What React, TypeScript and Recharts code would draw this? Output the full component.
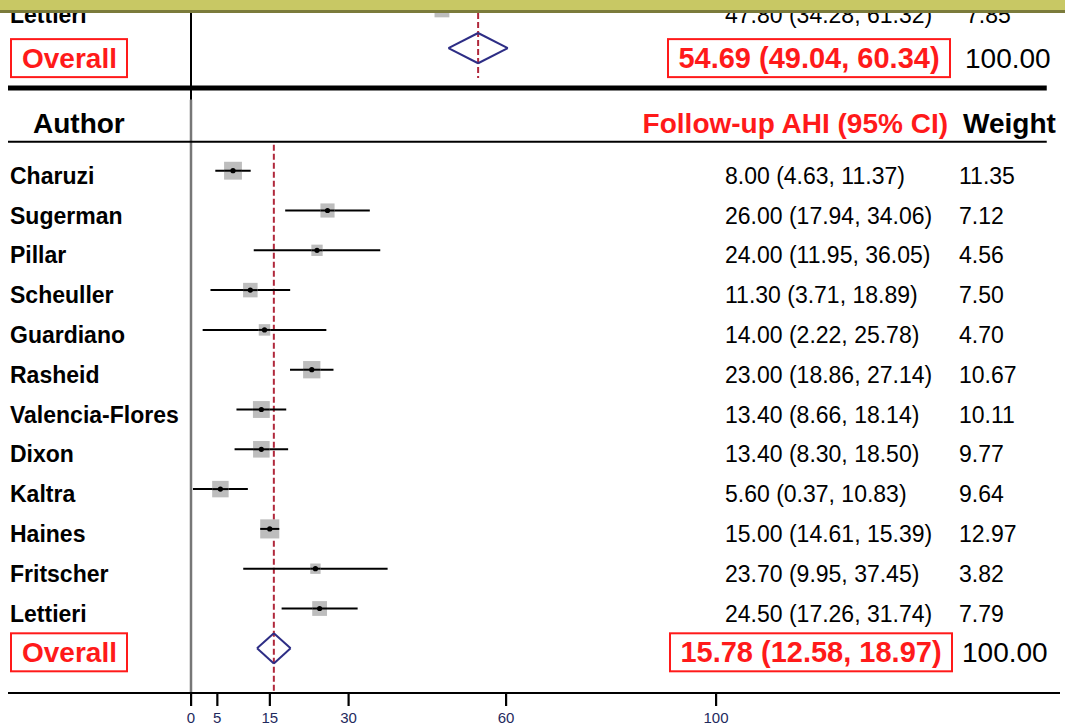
import React from 'react';
import { ScatterChart, Scatter, XAxis, YAxis, ReferenceLine } from 'recharts';

// ---------- data ----------
// previous (upper) panel, only its last study and its pooled row are visible
const topAuthors = ['Lettieri'];
const topEstimates = [47.8];
const topLower = [34.28];
const topUpper = [61.32];
const topWeights = [7.85];
const topOverall = [54.69, 49.04, 60.34]; // estimate, lower, upper

// follow-up AHI panel
const authors = [
  'Charuzi', 'Sugerman', 'Pillar', 'Scheuller', 'Guardiano', 'Rasheid',
  'Valencia-Flores', 'Dixon', 'Kaltra', 'Haines', 'Fritscher', 'Lettieri',
];
const estimates = [8.0, 26.0, 24.0, 11.3, 14.0, 23.0, 13.4, 13.4, 5.6, 15.0, 23.7, 24.5];
const lowerCI = [4.63, 17.94, 11.95, 3.71, 2.22, 18.86, 8.66, 8.3, 0.37, 14.61, 9.95, 17.26];
const upperCI = [11.37, 34.06, 36.05, 18.89, 25.78, 27.14, 18.14, 18.5, 10.83, 15.39, 37.45, 31.74];
const weights = [11.35, 7.12, 4.56, 7.5, 4.7, 10.67, 10.11, 9.77, 9.64, 12.97, 3.82, 7.79];
const overall = [15.78, 12.58, 18.97]; // estimate, lower, upper
const overallWeight = 100.0;

const xTicks = [0, 5, 15, 30, 60, 100];

// ---------- layout ----------
const W = 1065;
const H = 728;
const X_MIN = -34.857;
const X_MAX = 165.524;
const Y_MIN = -3.289;
const Y_MAX = 14.123;
const TOP_STUDY_ROW = -3.04;
const TOP_OVERALL_ROW = -2.08;
const HEADER_ROW = -0.32;
const THICK_RULE_ROW = -1.08;
const THIN_RULE_ROW = 0.27;
const ZERO_BREAK_ROW = -0.78;
const TOP_DASH = [-2.96, -1.33];
const LOW_DASH_START = 0.35;
const RULE_END_X = 163.0;
const DIAMOND_HALF = 0.38;
const BOX_SCALE = 5.3;
const TICK_SIZE = 13;

const RED = '#ff1a1a';
const NAVY = '#2d2d85';
const DASH = '#b0283c';
const FONT = '"Liberation Sans", Arial, Helvetica, sans-serif';

const fmt = (v: number) => v.toFixed(2);
const ciText = (e: number, l: number, u: number) => `${fmt(e)} (${fmt(l)}, ${fmt(u)})`;

type Row = {
  x: number;
  y: number;
  kind: 'study' | 'overall' | 'header';
  name?: string;
  ci?: string;
  weight?: string;
  dy: number;
  wx: number;
  boxX?: number;
};

const rows: Row[] = [
  ...topAuthors.map((a, i) => ({
    x: 0, y: TOP_STUDY_ROW + i, kind: 'study' as const, name: a,
    ci: ciText(topEstimates[i], topLower[i], topUpper[i]), weight: fmt(topWeights[i]), dy: 5, wx: 966,
  })),
  {
    x: 0, y: TOP_OVERALL_ROW, kind: 'overall', ci: ciText(topOverall[0], topOverall[1], topOverall[2]),
    weight: fmt(overallWeight), dy: 10, wx: 965, boxX: 668,
  },
  { x: 0, y: HEADER_ROW, kind: 'header', dy: 5, wx: 963 },
  ...authors.map((a, i) => ({
    x: 0, y: i + 1, kind: 'study' as const, name: a,
    ci: ciText(estimates[i], lowerCI[i], upperCI[i]), weight: fmt(weights[i]), dy: 5, wx: 959,
  })),
  {
    x: 0, y: authors.length + 1, kind: 'overall', ci: ciText(overall[0], overall[1], overall[2]),
    weight: fmt(overallWeight), dy: 4, wx: 962, boxX: 670,
  },
];

const boxes = [
  ...topAuthors.map((_, i) => ({ x: topEstimates[i], y: TOP_STUDY_ROW + i, w: topWeights[i] })),
  ...authors.map((_, i) => ({ x: estimates[i], y: i + 1, w: weights[i] })),
];

const ciSegments = [
  ...topAuthors.map((_, i) => ({ lo: topLower[i], hi: topUpper[i], y: TOP_STUDY_ROW + i })),
  ...authors.map((_, i) => ({ lo: lowerCI[i], hi: upperCI[i], y: i + 1 })),
];

const diamonds = [
  { est: topOverall[0], lo: topOverall[1], hi: topOverall[2], y: TOP_OVERALL_ROW },
  { est: overall[0], lo: overall[1], hi: overall[2], y: authors.length + 1 },
];

// tick marks sit on the axis line (the bottom of the row scale)
const tickPoints = xTicks.map((t) => ({ x: t, y: Y_MAX, label: String(t) }));

// ---------- renderers ----------
const BoxShape = (props: any) => {
  const { cx, cy, payload } = props;
  if (cx == null || cy == null) return null;
  const s = BOX_SCALE * Math.sqrt(payload.w);
  return (
    <g>
      <rect x={cx - s / 2} y={cy - s / 2} width={s} height={s} fill="#bdbdbd" />
      <line x1={cx - s / 2} x2={cx + s / 2} y1={cy} y2={cy} stroke="#000" strokeWidth={2} />
      <circle cx={cx} cy={cy} r={2.6} fill="#000" />
    </g>
  );
};

const TickShape = (props: any) => {
  const { cx, cy, payload } = props;
  if (cx == null || cy == null) return null;
  return (
    <g>
      <rect x={cx - 1} y={cy} width={2.2} height={TICK_SIZE} fill="#000" />
      <text x={cx} y={cy + 24} textAnchor="middle" dominantBaseline="central" fontSize={15} fill="#1f2a5e" fontFamily={FONT}>
        {payload.label}
      </text>
    </g>
  );
};

const RowText = (props: any) => {
  const { cy, payload } = props;
  if (cy == null || !payload) return null;
  const row = payload as Row;
  const ty = cy + row.dy;
  const common = { dominantBaseline: 'central' as const, fontFamily: FONT };
  if (row.kind === 'header') {
    return (
      <g>
        <text x={33} y={ty} fontSize={28} fontWeight="bold" fill="#000" {...common}>Author</text>
        <text x={948} y={ty} fontSize={28} fontWeight="bold" fill={RED} textAnchor="end" {...common}>
          Follow-up AHI (95% CI)
        </text>
        <text x={row.wx} y={ty} fontSize={28} fontWeight="bold" fill="#000" {...common}>Weight</text>
      </g>
    );
  }
  if (row.kind === 'overall') {
    const bx = row.boxX as number;
    return (
      <g>
        <rect x={11} y={ty - 19} width={116} height={38} fill="none" stroke={RED} strokeWidth={2} />
        <text x={22} y={ty} fontSize={28} fontWeight="bold" fill={RED} {...common}>Overall</text>
        <rect x={bx} y={ty - 19} width={282} height={38} fill="none" stroke={RED} strokeWidth={2} />
        <text x={bx + 141} y={ty} fontSize={29} fontWeight="bold" fill={RED} textAnchor="middle" {...common}>
          {row.ci}
        </text>
        <text x={row.wx} y={ty} fontSize={28} fill="#000" {...common}>{row.weight}</text>
      </g>
    );
  }
  return (
    <g>
      <text x={10} y={ty} fontSize={23} fontWeight="bold" fill="#000" {...common}>{row.name}</text>
      <text x={725} y={ty} fontSize={23} fill="#000" {...common}>{row.ci}</text>
      <text x={row.wx} y={ty} fontSize={23} fill="#000" {...common}>{row.weight}</text>
    </g>
  );
};

export default function App() {
  return (
    <div style={{ position: 'absolute', left: 0, top: 0, width: W, height: H, background: '#fff', fontFamily: FONT }}>
      <ScatterChart width={W} height={H} margin={{ top: 0, right: 5, bottom: 0, left: 8 }}>
        <XAxis
          type="number"
          dataKey="x"
          domain={[X_MIN, X_MAX]}
          ticks={xTicks}
          height={35}
          tick={false}
          tickLine={false}
          axisLine={{ stroke: '#000', strokeWidth: 2 }}
        />
        <YAxis
          type="number"
          dataKey="y"
          domain={[Y_MIN, Y_MAX]}
          reversed
          hide
        />
        {/* vertical line at zero */}
        <ReferenceLine
          segment={[{ x: 0, y: Y_MIN }, { x: 0, y: ZERO_BREAK_ROW }]}
          stroke="#000" strokeWidth={2} ifOverflow="visible"
        />
        <ReferenceLine
          segment={[{ x: 0, y: ZERO_BREAK_ROW }, { x: 0, y: Y_MAX }]}
          stroke="#777" strokeWidth={2.5} ifOverflow="visible"
        />
        {/* rules */}
        <ReferenceLine
          segment={[{ x: X_MIN, y: THICK_RULE_ROW }, { x: RULE_END_X, y: THICK_RULE_ROW }]}
          stroke="#000" strokeWidth={5} ifOverflow="visible"
        />
        <ReferenceLine
          segment={[{ x: X_MIN, y: THIN_RULE_ROW }, { x: RULE_END_X, y: THIN_RULE_ROW }]}
          stroke="#000" strokeWidth={2} ifOverflow="visible"
        />
        {/* pooled estimate dashed lines */}
        <ReferenceLine
          segment={[{ x: topOverall[0], y: TOP_DASH[0] }, { x: topOverall[0], y: TOP_DASH[1] }]}
          stroke={DASH} strokeWidth={2} strokeDasharray="6 3" ifOverflow="visible"
        />
        <ReferenceLine
          segment={[{ x: overall[0], y: LOW_DASH_START }, { x: overall[0], y: Y_MAX }]}
          stroke={DASH} strokeWidth={2} strokeDasharray="6 3" ifOverflow="visible"
        />
        {/* confidence intervals */}
        {ciSegments.map((s, i) => (
          <ReferenceLine
            key={`ci-${i}`}
            segment={[{ x: s.lo, y: s.y }, { x: s.hi, y: s.y }]}
            stroke="#000" strokeWidth={2} ifOverflow="visible"
          />
        ))}
        {/* diamonds */}
        {diamonds.map((d, i) => (
          <React.Fragment key={`d-${i}`}>
            <ReferenceLine segment={[{ x: d.lo, y: d.y }, { x: d.est, y: d.y - DIAMOND_HALF }]} stroke={NAVY} strokeWidth={2} ifOverflow="visible" />
            <ReferenceLine segment={[{ x: d.est, y: d.y - DIAMOND_HALF }, { x: d.hi, y: d.y }]} stroke={NAVY} strokeWidth={2} ifOverflow="visible" />
            <ReferenceLine segment={[{ x: d.hi, y: d.y }, { x: d.est, y: d.y + DIAMOND_HALF }]} stroke={NAVY} strokeWidth={2} ifOverflow="visible" />
            <ReferenceLine segment={[{ x: d.est, y: d.y + DIAMOND_HALF }, { x: d.lo, y: d.y }]} stroke={NAVY} strokeWidth={2} ifOverflow="visible" />
          </React.Fragment>
        ))}
        <Scatter data={boxes} shape={BoxShape} isAnimationActive={false} />
        <Scatter data={rows} shape={RowText} isAnimationActive={false} />
        <Scatter data={tickPoints} shape={TickShape} isAnimationActive={false} />
      </ScatterChart>
      <div
        style={{
          position: 'absolute', left: 0, top: 0, width: W, height: 10,
          background: '#c8c864', borderBottom: '3px solid #7b7b3b',
        }}
      />
    </div>
  );
}
